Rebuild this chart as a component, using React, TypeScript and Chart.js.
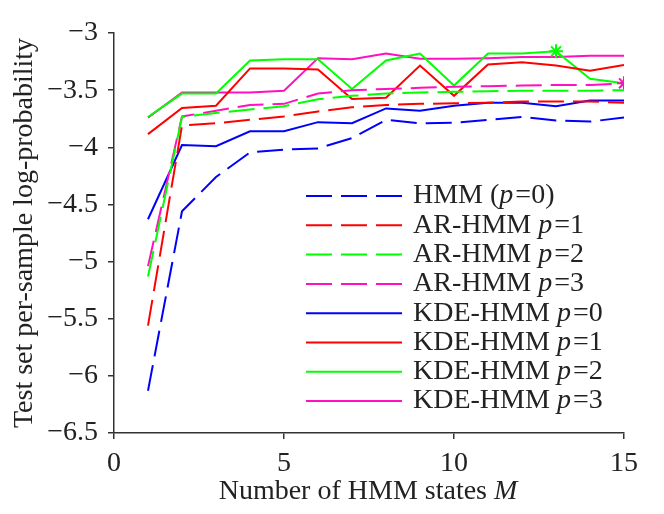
import { useEffect, useRef } from "react";
import { Chart, registerables } from "chart.js";

Chart.register(...registerables);

const states = [1, 2, 3, 4, 5, 6, 7, 8, 9, 10, 11, 12, 13, 14, 15];

const hmm = [-6.13, -4.56, -4.26, -4.045, -4.02, -4.01, -3.92, -3.76, -3.79, -3.785, -3.76, -3.735, -3.765, -3.775, -3.74];
const ar1 = [-5.56, -3.81, -3.79, -3.76, -3.73, -3.686, -3.65, -3.63, -3.62, -3.615, -3.61, -3.6, -3.6, -3.6, -3.61];
const ar2 = [-5.13, -3.735, -3.7, -3.67, -3.64, -3.58, -3.55, -3.53, -3.52, -3.515, -3.51, -3.505, -3.505, -3.505, -3.5];
const ar3 = [-5.04, -3.73, -3.68, -3.63, -3.62, -3.53, -3.5, -3.49, -3.48, -3.47, -3.465, -3.46, -3.455, -3.455, -3.44];
const kde0 = [-4.63, -3.98, -3.99, -3.86, -3.86, -3.78, -3.79, -3.66, -3.68, -3.636, -3.61, -3.61, -3.64, -3.59, -3.59];
const kde1 = [-3.885, -3.656, -3.636, -3.31, -3.31, -3.32, -3.577, -3.566, -3.285, -3.55, -3.276, -3.256, -3.285, -3.33, -3.28];
const kde2 = [-3.735, -3.53, -3.53, -3.24, -3.23, -3.23, -3.49, -3.24, -3.18, -3.46, -3.18, -3.18, -3.16, -3.4, -3.44];
const kde3 = [-3.74, -3.52, -3.52, -3.52, -3.505, -3.22, -3.23, -3.18, -3.226, -3.225, -3.22, -3.21, -3.21, -3.2, -3.2];

const yTicks = [-6.5, -6, -5.5, -5, -4.5, -4, -3.5, -3];
const xTicks = [0, 5, 10, 15];

const BLUE = "#0000ff";
const RED = "#ff0000";
const GREEN = "#00ff00";
const MAGENTA = "#ff10c0";
const DASH = [26, 9];
const FONT = "'Liberation Serif', 'DejaVu Serif', serif";
const SIZE = 28;

// legend rows: [prefix, p value, closing, color, dashed]
const legendRows: [string, string, string, string, boolean][] = [
  ["HMM (", "=0", ")", BLUE, true],
  ["AR-HMM ", "=1", "", RED, true],
  ["AR-HMM ", "=2", "", GREEN, true],
  ["AR-HMM ", "=3", "", MAGENTA, true],
  ["KDE-HMM ", "=0", "", BLUE, false],
  ["KDE-HMM ", "=1", "", RED, false],
  ["KDE-HMM ", "=2", "", GREEN, false],
  ["KDE-HMM ", "=3", "", MAGENTA, false],
];

// draws mixed regular / italic runs starting at x
const drawRuns = (ctx: CanvasRenderingContext2D, parts: [string, boolean][], x: number, y: number) => {
  parts.forEach(([t, it]) => {
    if (!t) return;
    ctx.font = `${it ? "italic " : ""}${SIZE}px ${FONT}`;
    ctx.fillText(t, x, y);
    x += ctx.measureText(t).width + (it ? 2 : 0);
  });
};

const runsWidth = (ctx: CanvasRenderingContext2D, parts: [string, boolean][]) =>
  parts.reduce((w, [t, it]) => {
    ctx.font = `${it ? "italic " : ""}${SIZE}px ${FONT}`;
    return w + ctx.measureText(t).width + (it ? 2 : 0);
  }, 0);

const textPlugin = {
  id: "innerLegend",
  afterDraw(chart: Chart) {
    const ctx = chart.ctx;
    ctx.save();
    legendRows.forEach(([pre, val, post, color, dashed], i) => {
      const y = 196 + i * 29.3;
      ctx.strokeStyle = color;
      ctx.lineWidth = 2;
      ctx.setLineDash(dashed ? DASH : []);
      ctx.beginPath();
      ctx.moveTo(306, y);
      ctx.lineTo(402, y);
      ctx.stroke();
      ctx.setLineDash([]);
      ctx.fillStyle = "#222";
      ctx.textBaseline = "middle";
      drawRuns(ctx, [[pre, false], ["p", true], [val, false], [post, false]], 413, y);
    });

    // x axis title with italic M
    const area = chart.chartArea;
    const title: [string, boolean][] = [["Number of HMM states ", false], ["M", true]];
    const w = runsWidth(ctx, title);
    ctx.fillStyle = "#222";
    ctx.textBaseline = "middle";
    drawRuns(ctx, title, (area.left + area.right) / 2 - w / 2, 492);
    ctx.restore();
  },
};

const toPts = (ys: number[]) => ys.map((y, i) => ({ x: states[i], y }));

const starAt = (idx: number) => (c: any) => (c.dataIndex === idx ? 7 : 0);

const App = () => {
  const canvasRef = useRef<HTMLCanvasElement | null>(null);

  useEffect(() => {
    document.body.style.margin = "0";
    if (!canvasRef.current) return;
    const ctx = canvasRef.current.getContext("2d");
    if (!ctx) return;

    const line = (label: string, ys: number[], color: string, dashed: boolean, star = -1) => ({
      label,
      data: toPts(ys),
      borderColor: color,
      backgroundColor: color,
      borderWidth: 2,
      borderDash: dashed ? DASH : [],
      pointStyle: "star",
      pointRadius: star >= 0 ? starAt(star) : 0,
      pointBorderWidth: 2,
      pointBorderColor: color,
      tension: 0,
    });

    const chart = new Chart(ctx, {
      type: "line",
      data: {
        datasets: [
          line("HMM (p=0)", hmm, BLUE, true),
          line("AR-HMM p=1", ar1, RED, true),
          line("AR-HMM p=2", ar2, GREEN, true),
          line("AR-HMM p=3", ar3, MAGENTA, true, 14),
          line("KDE-HMM p=0", kde0, BLUE, false),
          line("KDE-HMM p=1", kde1, RED, false),
          line("KDE-HMM p=2", kde2, GREEN, false, 12),
          line("KDE-HMM p=3", kde3, MAGENTA, false),
        ] as any,
      },
      options: {
        responsive: false,
        animation: false,
        layout: { padding: { top: 33, right: 40, left: 0, bottom: 0 } },
        plugins: { legend: { display: false }, tooltip: { enabled: false } },
        scales: {
          x: {
            type: "linear",
            min: 0,
            max: 15,
            afterFit: (s: any) => {
              s.height = 81;
            },
            afterBuildTicks: (s: any) => {
              s.ticks = xTicks.map((v) => ({ value: v }));
            },
            grid: { drawOnChartArea: false, tickLength: 6, color: "#333", lineWidth: 1.5 },
            border: { color: "#333", width: 1.5 },
            ticks: { color: "#222", padding: 8, font: { family: FONT, size: SIZE }, maxRotation: 0 },
            title: { display: false },
          },
          y: {
            type: "linear",
            min: -6.5,
            max: -3,
            afterFit: (s: any) => {
              s.width = 114;
            },
            afterBuildTicks: (s: any) => {
              s.ticks = yTicks.map((v) => ({ value: v }));
            },
            grid: { drawOnChartArea: false, tickLength: 6, color: "#333", lineWidth: 1.5 },
            border: { color: "#333", width: 1.5 },
            ticks: {
              color: "#222",
              padding: 10,
              font: { family: FONT, size: SIZE },
              callback: (v: any) => String(v).replace("-", "\u2212"),
            },
            title: {
              display: true,
              text: "Test set per-sample log-probability",
              color: "#222",
              font: { family: FONT, size: SIZE },
              padding: { top: 8, bottom: 0 },
            },
          },
        },
      },
      plugins: [textPlugin],
    });
    return () => {
      chart.destroy();
    };
  }, []);

  return <canvas ref={canvasRef} width={664} height={514}></canvas>;
};

export default App;
